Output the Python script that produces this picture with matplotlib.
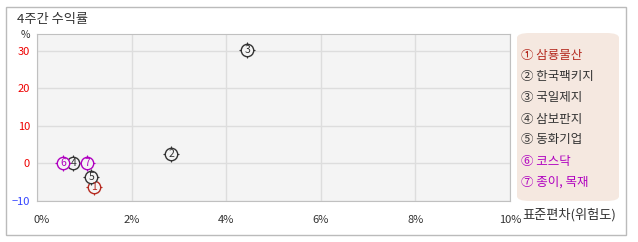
import matplotlib
matplotlib.use("Agg")
import matplotlib.pyplot as plt
import matplotlib.transforms as mtransforms
from matplotlib.patches import Rectangle, FancyBboxPatch

plt.rcParams['font.family'] = ['Noto Sans CJK KR', 'DejaVu Sans']

names = ["① 삼룡물산", "② 한국팩키지", "③ 국일제지", "④ 삼보판지", "⑤ 동화기업", "⑥ 코스닥", "⑦ 종이, 목재"]
nums = ["1", "2", "3", "4", "5", "6", "7"]
risk = [1.20, 2.84, 4.45, 0.77, 1.15, 0.56, 1.06]
ret = [-6.2, 2.6, 30.2, 0.0, -3.7, 0.0, 0.0]
colors = ["#b52a20", "#333333", "#333333", "#333333", "#333333", "#b000c0", "#b000c0"]
xticks = [0, 2, 4, 6, 8, 10]
xticklabels = ["0%", "2%", "4%", "6%", "8%", "10%"]
yticks = [-10, 0, 10, 20, 30]

W, H = 638, 242
fig = plt.figure(figsize=(W/100, H/100), dpi=100)
fig.patch.set_facecolor("white")

# outer frame
fig.patches.append(Rectangle((6/W, 1-235/H), 620/W, 228/H, transform=fig.transFigure,
                             fill=False, edgecolor="#bbbbbb", linewidth=1))

L, R, T, B = 37, 510, 34, 201
ax = fig.add_axes([L/W, 1-B/H, (R-L)/W, (B-T)/H])
ax.set_facecolor("#f4f4f4")
ax.set_xlim(0, 10)
ax.set_ylim(-10, 34.5)
ax.set_xticks(xticks)
ax.set_xticklabels(xticklabels)
ax.set_yticks(yticks)
ax.grid(True, color="#dddddd", linewidth=1)
ax.set_axisbelow(True)
for s in ax.spines.values():
    s.set_color("#c0c0c0")
ax.tick_params(length=0, labelsize=8)
ax.tick_params(axis='x', pad=10)
ax.tick_params(axis='y', pad=5)
for lab in ax.get_xticklabels():
    lab.set_color("#333333")
first = ax.get_xticklabels()[0]
first.set_transform(first.get_transform() + mtransforms.ScaledTranslation(5/100, 0, fig.dpi_scale_trans))
for lab, v in zip(ax.get_yticklabels(), yticks):
    lab.set_color("#3344ff" if v < 0 else "#ee0000")

for x, y, n, c in zip(risk, ret, nums, colors):
    ax.scatter([x], [y], s=135, marker="+", color=c, linewidths=0.8, zorder=3)
    ax.scatter([x], [y], s=80, facecolors="#f4f4f4", edgecolors=c, linewidths=1.0, zorder=3)
    ax.text(x, y, n, color=c, fontsize=7.5, ha="center", va="center", zorder=4)

fig.text(17/W, 1-19/H, "4주간 수익률", fontsize=9.5, color="#333333", va="center", ha="left")
fig.text(25/W, 1-35/H, "%", fontsize=7.5, color="#333333", va="center", ha="center")
fig.text(522/W, 1-215/H, "표준편차(위험도)", fontsize=9.5, color="#333333", va="center", ha="left")

# legend
fig.patches.append(FancyBboxPatch((517/W, 1-201/H), 102/W, 168/H, transform=fig.transFigure,
                                  boxstyle="round,pad=0,rounding_size=0.02",
                                  facecolor="#f5e8e0", edgecolor="none"))
ys = [55, 76, 97, 119, 140, 161, 182]
for yy, name, c in zip(ys, names, colors):
    fig.text(521/W, 1-yy/H, name, fontsize=9, color=c, va="center", ha="left")

fig.savefig("out.png", dpi=100)
